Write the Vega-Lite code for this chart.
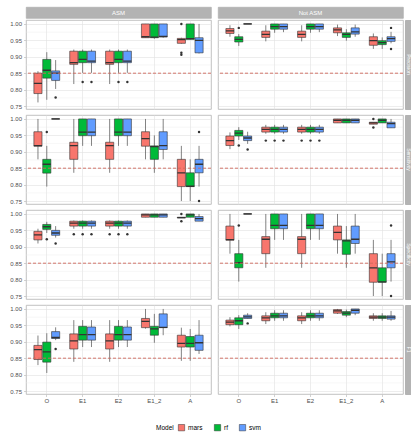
{
"$schema": "https://vega.github.io/schema/vega-lite/v6.json",
"padding": {"left": 8, "top": 6, "right": 0, "bottom": 0},
"datasets": {
"minor": [{"minor": 0.775}, {"minor": 0.825}, {"minor": 0.875}, {"minor": 0.925}, {"minor": 0.975}],
"stats": [
{"metric":"Precision","group":"ASM","method":"O","model":"mars","lower":0.761,"q1":0.788,"median":0.819,"q3":0.85,"upper":0.856},
{"metric":"Precision","group":"ASM","method":"O","model":"rf","lower":0.769,"q1":0.835,"median":0.859,"q3":0.892,"upper":0.914},
{"metric":"Precision","group":"ASM","method":"O","model":"svm","lower":0.802,"q1":0.828,"median":0.85,"q3":0.857,"upper":0.89},
{"metric":"Precision","group":"ASM","method":"E1","model":"mars","lower":0.817,"q1":0.877,"median":0.882,"q3":0.917,"upper":0.922},
{"metric":"Precision","group":"ASM","method":"E1","model":"rf","lower":0.851,"q1":0.882,"median":0.892,"q3":0.917,"upper":0.922},
{"metric":"Precision","group":"ASM","method":"E1","model":"svm","lower":0.851,"q1":0.882,"median":0.887,"q3":0.917,"upper":0.922},
{"metric":"Precision","group":"ASM","method":"E2","model":"mars","lower":0.817,"q1":0.877,"median":0.882,"q3":0.917,"upper":0.922},
{"metric":"Precision","group":"ASM","method":"E2","model":"rf","lower":0.851,"q1":0.882,"median":0.892,"q3":0.917,"upper":0.922},
{"metric":"Precision","group":"ASM","method":"E2","model":"svm","lower":0.851,"q1":0.882,"median":0.887,"q3":0.917,"upper":0.922},
{"metric":"Precision","group":"ASM","method":"E1_2","model":"mars","lower":0.958,"q1":0.958,"median":0.961,"q3":1,"upper":1},
{"metric":"Precision","group":"ASM","method":"E1_2","model":"rf","lower":0.955,"q1":0.958,"median":0.96,"q3":1,"upper":1},
{"metric":"Precision","group":"ASM","method":"E1_2","model":"svm","lower":0.958,"q1":0.96,"median":0.962,"q3":1,"upper":1},
{"metric":"Precision","group":"ASM","method":"A","model":"mars","lower":0.94,"q1":0.941,"median":0.952,"q3":0.956,"upper":0.958},
{"metric":"Precision","group":"ASM","method":"A","model":"rf","lower":0.953,"q1":0.953,"median":0.955,"q3":1,"upper":1},
{"metric":"Precision","group":"ASM","method":"A","model":"svm","lower":0.91,"q1":0.912,"median":0.95,"q3":0.958,"upper":1},
{"metric":"Precision","group":"ASM","method":"O","model":"svm","outlier":0.776},
{"metric":"Precision","group":"ASM","method":"E1","model":"rf","outlier":0.823},
{"metric":"Precision","group":"ASM","method":"E1","model":"svm","outlier":0.823},
{"metric":"Precision","group":"ASM","method":"E2","model":"rf","outlier":0.823},
{"metric":"Precision","group":"ASM","method":"E2","model":"svm","outlier":0.823},
{"metric":"Precision","group":"ASM","method":"A","model":"mars","outlier":1.0},
{"metric":"Precision","group":"ASM","method":"A","model":"mars","outlier":0.912},
{"metric":"Precision","group":"ASM","method":"A","model":"mars","outlier":0.906},

{"metric":"Precision","group":"Not ASM","method":"O","model":"mars","lower":0.961,"q1":0.971,"median":0.979,"q3":0.986,"upper":0.996},
{"metric":"Precision","group":"Not ASM","method":"O","model":"rf","lower":0.933,"q1":0.945,"median":0.953,"q3":0.961,"upper":0.969},
{"metric":"Precision","group":"Not ASM","method":"O","model":"svm","lower":1,"q1":1,"median":1,"q3":1,"upper":1},
{"metric":"Precision","group":"Not ASM","method":"E1","model":"mars","lower":0.947,"q1":0.959,"median":0.968,"q3":0.978,"upper":0.996},
{"metric":"Precision","group":"Not ASM","method":"E1","model":"rf","lower":0.973,"q1":0.984,"median":0.992,"q3":1,"upper":1},
{"metric":"Precision","group":"Not ASM","method":"E1","model":"svm","lower":0.975,"q1":0.984,"median":0.992,"q3":1,"upper":1},
{"metric":"Precision","group":"Not ASM","method":"E2","model":"mars","lower":0.947,"q1":0.959,"median":0.968,"q3":0.978,"upper":0.996},
{"metric":"Precision","group":"Not ASM","method":"E2","model":"rf","lower":0.973,"q1":0.984,"median":0.992,"q3":1,"upper":1},
{"metric":"Precision","group":"Not ASM","method":"E2","model":"svm","lower":0.975,"q1":0.984,"median":0.992,"q3":1,"upper":1},
{"metric":"Precision","group":"Not ASM","method":"E1_2","model":"mars","lower":0.963,"q1":0.973,"median":0.982,"q3":0.988,"upper":0.998},
{"metric":"Precision","group":"Not ASM","method":"E1_2","model":"rf","lower":0.949,"q1":0.959,"median":0.968,"q3":0.973,"upper":0.984},
{"metric":"Precision","group":"Not ASM","method":"E1_2","model":"svm","lower":0.961,"q1":0.969,"median":0.976,"q3":0.988,"upper":0.998},
{"metric":"Precision","group":"Not ASM","method":"A","model":"mars","lower":0.924,"q1":0.935,"median":0.949,"q3":0.961,"upper":0.971},
{"metric":"Precision","group":"Not ASM","method":"A","model":"rf","lower":0.924,"q1":0.937,"median":0.943,"q3":0.949,"upper":0.959},
{"metric":"Precision","group":"Not ASM","method":"A","model":"svm","lower":0.941,"q1":0.947,"median":0.955,"q3":0.961,"upper":0.976},
{"metric":"Precision","group":"Not ASM","method":"O","model":"rf","outlier":0.988},
{"metric":"Precision","group":"Not ASM","method":"A","model":"svm","outlier":0.988},
{"metric":"Precision","group":"Not ASM","method":"A","model":"svm","outlier":0.924},

{"metric":"Sensitivity","group":"ASM","method":"O","model":"mars","lower":0.877,"q1":0.917,"median":0.919,"q3":0.961,"upper":1},
{"metric":"Sensitivity","group":"ASM","method":"O","model":"rf","lower":0.794,"q1":0.835,"median":0.862,"q3":0.877,"upper":0.918},
{"metric":"Sensitivity","group":"ASM","method":"O","model":"svm","lower":1,"q1":1,"median":1,"q3":1,"upper":1},
{"metric":"Sensitivity","group":"ASM","method":"E1","model":"mars","lower":0.836,"q1":0.877,"median":0.919,"q3":0.929,"upper":1},
{"metric":"Sensitivity","group":"ASM","method":"E1","model":"rf","lower":0.918,"q1":0.949,"median":0.96,"q3":1,"upper":1},
{"metric":"Sensitivity","group":"ASM","method":"E1","model":"svm","lower":0.918,"q1":0.949,"median":0.96,"q3":1,"upper":1},
{"metric":"Sensitivity","group":"ASM","method":"E2","model":"mars","lower":0.836,"q1":0.877,"median":0.919,"q3":0.929,"upper":1},
{"metric":"Sensitivity","group":"ASM","method":"E2","model":"rf","lower":0.918,"q1":0.949,"median":0.96,"q3":1,"upper":1},
{"metric":"Sensitivity","group":"ASM","method":"E2","model":"svm","lower":0.918,"q1":0.949,"median":0.96,"q3":1,"upper":1},
{"metric":"Sensitivity","group":"ASM","method":"E1_2","model":"mars","lower":0.877,"q1":0.917,"median":0.94,"q3":0.961,"upper":1},
{"metric":"Sensitivity","group":"ASM","method":"E1_2","model":"rf","lower":0.836,"q1":0.877,"median":0.916,"q3":0.918,"upper":0.95},
{"metric":"Sensitivity","group":"ASM","method":"E1_2","model":"svm","lower":0.877,"q1":0.907,"median":0.919,"q3":0.961,"upper":1},
{"metric":"Sensitivity","group":"ASM","method":"A","model":"mars","lower":0.75,"q1":0.794,"median":0.836,"q3":0.877,"upper":0.918},
{"metric":"Sensitivity","group":"ASM","method":"A","model":"rf","lower":0.75,"q1":0.794,"median":0.795,"q3":0.836,"upper":0.877},
{"metric":"Sensitivity","group":"ASM","method":"A","model":"svm","lower":0.794,"q1":0.836,"median":0.862,"q3":0.877,"upper":0.918},
{"metric":"Sensitivity","group":"ASM","method":"O","model":"rf","outlier":0.96},
{"metric":"Sensitivity","group":"ASM","method":"A","model":"svm","outlier":0.96},
{"metric":"Sensitivity","group":"ASM","method":"A","model":"svm","outlier":0.75},

{"metric":"Sensitivity","group":"Not ASM","method":"O","model":"mars","lower":0.908,"q1":0.919,"median":0.934,"q3":0.948,"upper":0.959},
{"metric":"Sensitivity","group":"Not ASM","method":"O","model":"rf","lower":0.936,"q1":0.948,"median":0.957,"q3":0.965,"upper":0.975},
{"metric":"Sensitivity","group":"Not ASM","method":"O","model":"svm","lower":0.924,"q1":0.934,"median":0.942,"q3":0.948,"upper":0.961},
{"metric":"Sensitivity","group":"Not ASM","method":"E1","model":"mars","lower":0.955,"q1":0.96,"median":0.968,"q3":0.975,"upper":0.982},
{"metric":"Sensitivity","group":"Not ASM","method":"E1","model":"rf","lower":0.955,"q1":0.96,"median":0.968,"q3":0.975,"upper":0.982},
{"metric":"Sensitivity","group":"Not ASM","method":"E1","model":"svm","lower":0.955,"q1":0.96,"median":0.968,"q3":0.975,"upper":0.982},
{"metric":"Sensitivity","group":"Not ASM","method":"E2","model":"mars","lower":0.955,"q1":0.96,"median":0.968,"q3":0.975,"upper":0.982},
{"metric":"Sensitivity","group":"Not ASM","method":"E2","model":"rf","lower":0.955,"q1":0.96,"median":0.968,"q3":0.975,"upper":0.982},
{"metric":"Sensitivity","group":"Not ASM","method":"E2","model":"svm","lower":0.955,"q1":0.96,"median":0.968,"q3":0.975,"upper":0.982},
{"metric":"Sensitivity","group":"Not ASM","method":"E1_2","model":"mars","lower":0.988,"q1":0.988,"median":0.996,"q3":1,"upper":1},
{"metric":"Sensitivity","group":"Not ASM","method":"E1_2","model":"rf","lower":0.988,"q1":0.988,"median":0.996,"q3":1,"upper":1},
{"metric":"Sensitivity","group":"Not ASM","method":"E1_2","model":"svm","lower":0.988,"q1":0.988,"median":0.996,"q3":1,"upper":1},
{"metric":"Sensitivity","group":"Not ASM","method":"A","model":"mars","lower":0.984,"q1":0.984,"median":0.988,"q3":0.99,"upper":0.99},
{"metric":"Sensitivity","group":"Not ASM","method":"A","model":"rf","lower":0.988,"q1":0.988,"median":0.996,"q3":1,"upper":1},
{"metric":"Sensitivity","group":"Not ASM","method":"A","model":"svm","lower":0.973,"q1":0.973,"median":0.986,"q3":0.99,"upper":1},
{"metric":"Sensitivity","group":"Not ASM","method":"O","model":"rf","outlier":0.919},
{"metric":"Sensitivity","group":"Not ASM","method":"O","model":"svm","outlier":0.907},
{"metric":"Sensitivity","group":"Not ASM","method":"E1","model":"mars","outlier":0.934},
{"metric":"Sensitivity","group":"Not ASM","method":"E1","model":"rf","outlier":0.934},
{"metric":"Sensitivity","group":"Not ASM","method":"E1","model":"svm","outlier":0.934},
{"metric":"Sensitivity","group":"Not ASM","method":"E2","model":"mars","outlier":0.934},
{"metric":"Sensitivity","group":"Not ASM","method":"E2","model":"rf","outlier":0.934},
{"metric":"Sensitivity","group":"Not ASM","method":"E2","model":"svm","outlier":0.934},
{"metric":"Sensitivity","group":"Not ASM","method":"A","model":"mars","outlier":1.0},
{"metric":"Sensitivity","group":"Not ASM","method":"A","model":"mars","outlier":0.974},

{"metric":"Specificity","group":"ASM","method":"O","model":"mars","lower":0.91,"q1":0.921,"median":0.936,"q3":0.947,"upper":0.955},
{"metric":"Specificity","group":"ASM","method":"O","model":"rf","lower":0.942,"q1":0.953,"median":0.961,"q3":0.968,"upper":0.976},
{"metric":"Specificity","group":"ASM","method":"O","model":"svm","lower":0.928,"q1":0.935,"median":0.942,"q3":0.95,"upper":0.963},
{"metric":"Specificity","group":"ASM","method":"E1","model":"mars","lower":0.955,"q1":0.963,"median":0.972,"q3":0.978,"upper":0.98},
{"metric":"Specificity","group":"ASM","method":"E1","model":"rf","lower":0.955,"q1":0.963,"median":0.972,"q3":0.978,"upper":0.98},
{"metric":"Specificity","group":"ASM","method":"E1","model":"svm","lower":0.955,"q1":0.963,"median":0.972,"q3":0.978,"upper":0.98},
{"metric":"Specificity","group":"ASM","method":"E2","model":"mars","lower":0.955,"q1":0.963,"median":0.972,"q3":0.978,"upper":0.98},
{"metric":"Specificity","group":"ASM","method":"E2","model":"rf","lower":0.955,"q1":0.963,"median":0.972,"q3":0.978,"upper":0.98},
{"metric":"Specificity","group":"ASM","method":"E2","model":"svm","lower":0.955,"q1":0.963,"median":0.972,"q3":0.978,"upper":0.98},
{"metric":"Specificity","group":"ASM","method":"E1_2","model":"mars","lower":0.99,"q1":0.99,"median":0.997,"q3":1,"upper":1},
{"metric":"Specificity","group":"ASM","method":"E1_2","model":"rf","lower":0.99,"q1":0.99,"median":0.997,"q3":1,"upper":1},
{"metric":"Specificity","group":"ASM","method":"E1_2","model":"svm","lower":0.99,"q1":0.99,"median":0.997,"q3":1,"upper":1},
{"metric":"Specificity","group":"ASM","method":"A","model":"mars","lower":0.988,"q1":0.988,"median":0.989,"q3":0.99,"upper":0.99},
{"metric":"Specificity","group":"ASM","method":"A","model":"rf","lower":0.99,"q1":0.99,"median":0.997,"q3":1,"upper":1},
{"metric":"Specificity","group":"ASM","method":"A","model":"svm","lower":0.978,"q1":0.978,"median":0.986,"q3":0.992,"upper":1},
{"metric":"Specificity","group":"ASM","method":"O","model":"rf","outlier":0.923},
{"metric":"Specificity","group":"ASM","method":"O","model":"svm","outlier":0.91},
{"metric":"Specificity","group":"ASM","method":"E1","model":"mars","outlier":0.938},
{"metric":"Specificity","group":"ASM","method":"E1","model":"rf","outlier":0.938},
{"metric":"Specificity","group":"ASM","method":"E1","model":"svm","outlier":0.938},
{"metric":"Specificity","group":"ASM","method":"E2","model":"mars","outlier":0.938},
{"metric":"Specificity","group":"ASM","method":"E2","model":"rf","outlier":0.938},
{"metric":"Specificity","group":"ASM","method":"E2","model":"svm","outlier":0.938},
{"metric":"Specificity","group":"ASM","method":"A","model":"mars","outlier":1.0},
{"metric":"Specificity","group":"ASM","method":"A","model":"mars","outlier":0.978},

{"metric":"Specificity","group":"Not ASM","method":"O","model":"mars","lower":0.879,"q1":0.92,"median":0.922,"q3":0.963,"upper":1},
{"metric":"Specificity","group":"Not ASM","method":"O","model":"rf","lower":0.794,"q1":0.836,"median":0.852,"q3":0.879,"upper":0.921},
{"metric":"Specificity","group":"Not ASM","method":"O","model":"svm","lower":1,"q1":1,"median":1,"q3":1,"upper":1},
{"metric":"Specificity","group":"Not ASM","method":"E1","model":"mars","lower":0.836,"q1":0.879,"median":0.923,"q3":0.931,"upper":1},
{"metric":"Specificity","group":"Not ASM","method":"E1","model":"rf","lower":0.921,"q1":0.955,"median":0.965,"q3":1,"upper":1},
{"metric":"Specificity","group":"Not ASM","method":"E1","model":"svm","lower":0.921,"q1":0.955,"median":0.965,"q3":1,"upper":1},
{"metric":"Specificity","group":"Not ASM","method":"E2","model":"mars","lower":0.836,"q1":0.879,"median":0.923,"q3":0.931,"upper":1},
{"metric":"Specificity","group":"Not ASM","method":"E2","model":"rf","lower":0.921,"q1":0.955,"median":0.965,"q3":1,"upper":1},
{"metric":"Specificity","group":"Not ASM","method":"E2","model":"svm","lower":0.921,"q1":0.955,"median":0.965,"q3":1,"upper":1},
{"metric":"Specificity","group":"Not ASM","method":"E1_2","model":"mars","lower":0.879,"q1":0.921,"median":0.944,"q3":0.963,"upper":1},
{"metric":"Specificity","group":"Not ASM","method":"E1_2","model":"rf","lower":0.836,"q1":0.877,"median":0.918,"q3":0.921,"upper":0.963},
{"metric":"Specificity","group":"Not ASM","method":"E1_2","model":"svm","lower":0.879,"q1":0.91,"median":0.923,"q3":0.963,"upper":1},
{"metric":"Specificity","group":"Not ASM","method":"A","model":"mars","lower":0.75,"q1":0.792,"median":0.836,"q3":0.879,"upper":0.921},
{"metric":"Specificity","group":"Not ASM","method":"A","model":"rf","lower":0.75,"q1":0.792,"median":0.793,"q3":0.836,"upper":0.879},
{"metric":"Specificity","group":"Not ASM","method":"A","model":"svm","lower":0.794,"q1":0.836,"median":0.854,"q3":0.879,"upper":0.921},
{"metric":"Specificity","group":"Not ASM","method":"O","model":"rf","outlier":0.965},
{"metric":"Specificity","group":"Not ASM","method":"A","model":"svm","outlier":0.965},
{"metric":"Specificity","group":"Not ASM","method":"A","model":"svm","outlier":0.75},

{"metric":"F1","group":"ASM","method":"O","model":"mars","lower":0.829,"q1":0.846,"median":0.876,"q3":0.889,"upper":0.919},
{"metric":"F1","group":"ASM","method":"O","model":"rf","lower":0.805,"q1":0.838,"median":0.869,"q3":0.899,"upper":0.926},
{"metric":"F1","group":"ASM","method":"O","model":"svm","lower":0.905,"q1":0.91,"median":0.913,"q3":0.931,"upper":0.944},
{"metric":"F1","group":"ASM","method":"E1","model":"mars","lower":0.839,"q1":0.878,"median":0.903,"q3":0.924,"upper":0.966},
{"metric":"F1","group":"ASM","method":"E1","model":"rf","lower":0.884,"q1":0.905,"median":0.922,"q3":0.947,"upper":0.966},
{"metric":"F1","group":"ASM","method":"E1","model":"svm","lower":0.884,"q1":0.905,"median":0.922,"q3":0.945,"upper":0.966},
{"metric":"F1","group":"ASM","method":"E2","model":"mars","lower":0.839,"q1":0.878,"median":0.903,"q3":0.924,"upper":0.966},
{"metric":"F1","group":"ASM","method":"E2","model":"rf","lower":0.884,"q1":0.905,"median":0.922,"q3":0.947,"upper":0.966},
{"metric":"F1","group":"ASM","method":"E2","model":"svm","lower":0.884,"q1":0.905,"median":0.922,"q3":0.945,"upper":0.966},
{"metric":"F1","group":"ASM","method":"E1_2","model":"mars","lower":0.94,"q1":0.943,"median":0.962,"q3":0.971,"upper":1},
{"metric":"F1","group":"ASM","method":"E1_2","model":"rf","lower":0.897,"q1":0.92,"median":0.939,"q3":0.947,"upper":0.985},
{"metric":"F1","group":"ASM","method":"E1_2","model":"svm","lower":0.92,"q1":0.943,"median":0.944,"q3":0.985,"upper":1},
{"metric":"F1","group":"ASM","method":"A","model":"mars","lower":0.842,"q1":0.884,"median":0.895,"q3":0.92,"upper":0.943},
{"metric":"F1","group":"ASM","method":"A","model":"rf","lower":0.842,"q1":0.884,"median":0.895,"q3":0.916,"upper":0.939},
{"metric":"F1","group":"ASM","method":"A","model":"svm","lower":0.863,"q1":0.874,"median":0.897,"q3":0.92,"upper":0.966},
{"metric":"F1","group":"ASM","method":"O","model":"svm","outlier":0.878},

{"metric":"F1","group":"Not ASM","method":"O","model":"mars","lower":0.947,"q1":0.952,"median":0.96,"q3":0.966,"upper":0.975},
{"metric":"F1","group":"Not ASM","method":"O","model":"rf","lower":0.939,"q1":0.952,"median":0.964,"q3":0.973,"upper":0.981},
{"metric":"F1","group":"Not ASM","method":"O","model":"svm","lower":0.971,"q1":0.971,"median":0.976,"q3":0.981,"upper":0.987},
{"metric":"F1","group":"Not ASM","method":"E1","model":"mars","lower":0.954,"q1":0.964,"median":0.973,"q3":0.979,"upper":0.99},
{"metric":"F1","group":"Not ASM","method":"E1","model":"rf","lower":0.964,"q1":0.973,"median":0.979,"q3":0.987,"upper":0.996},
{"metric":"F1","group":"Not ASM","method":"E1","model":"svm","lower":0.964,"q1":0.973,"median":0.979,"q3":0.987,"upper":0.996},
{"metric":"F1","group":"Not ASM","method":"E2","model":"mars","lower":0.954,"q1":0.964,"median":0.973,"q3":0.979,"upper":0.99},
{"metric":"F1","group":"Not ASM","method":"E2","model":"rf","lower":0.964,"q1":0.973,"median":0.979,"q3":0.987,"upper":0.996},
{"metric":"F1","group":"Not ASM","method":"E2","model":"svm","lower":0.964,"q1":0.973,"median":0.979,"q3":0.987,"upper":0.996},
{"metric":"F1","group":"Not ASM","method":"E1_2","model":"mars","lower":0.985,"q1":0.987,"median":0.994,"q3":0.998,"upper":1},
{"metric":"F1","group":"Not ASM","method":"E1_2","model":"rf","lower":0.975,"q1":0.981,"median":0.987,"q3":0.992,"upper":0.998},
{"metric":"F1","group":"Not ASM","method":"E1_2","model":"svm","lower":0.981,"q1":0.987,"median":0.996,"q3":1,"upper":1},
{"metric":"F1","group":"Not ASM","method":"A","model":"mars","lower":0.964,"q1":0.971,"median":0.975,"q3":0.979,"upper":0.987},
{"metric":"F1","group":"Not ASM","method":"A","model":"rf","lower":0.964,"q1":0.971,"median":0.975,"q3":0.979,"upper":0.987},
{"metric":"F1","group":"Not ASM","method":"A","model":"svm","lower":0.964,"q1":0.969,"median":0.975,"q3":0.979,"upper":0.994},
{"metric":"F1","group":"Not ASM","method":"O","model":"svm","outlier":0.956}
]
},
"data": {"name": "stats"},
"resolve": {"scale": {"color": "shared"}, "legend": {"color": "shared"}},
"columns": 3,
"spacing": 0,
"align": "each",
"concat": [
  {"width": 185, "height": 11, "data": {"values": [{"label": "ASM"}]}, "view": {"fill": "#b3b3b3", "stroke": "#b3b3b3"}, "mark": {"type": "text", "color": "white", "fontSize": 6, "font": "Liberation Sans"}, "encoding": {"text": {"field": "label"}, "y": {"field": "label", "type": "nominal", "title": null, "axis": {"labels": false, "ticks": false, "domain": false, "grid": false, "minExtent": 17, "maxExtent": 17}}}},
  {"width": 185, "height": 11, "data": {"values": [{"label": "Not ASM"}]}, "view": {"fill": "#b3b3b3", "stroke": "#b3b3b3"}, "mark": {"type": "text", "color": "white", "fontSize": 6, "font": "Liberation Sans"}, "encoding": {"text": {"field": "label"}, "y": {"field": "label", "type": "nominal", "title": null, "axis": {"labels": false, "ticks": false, "domain": false, "grid": false, "minExtent": 5, "maxExtent": 5}}}},
  {"width": 7, "height": 11, "data": {"values": [{"label": ""}]}, "view": {"fill": null, "stroke": null}, "mark": {"type": "text"}, "encoding": {"text": {"field": "label"}}},

  {"width": 185, "height": 89, "transform": [{"filter": "datum.metric === 'Precision' && datum.group === 'ASM'"}],
   "layer": [
    {"data": {"name": "minor"}, "mark": {"type": "rule", "color": "#ececec", "strokeWidth": 0.4}, "encoding": {"y": {"field": "minor", "type": "quantitative", "title": null, "axis": {"labels": true, "ticks": true, "labelOverlap": false, "labelFlush": false, "labelBound": false, "tickCount": 6, "format": ".2f", "minExtent": 17, "maxExtent": 17}}}},
    {"mark": {"type": "rule", "color": "#4d4d4d", "strokeWidth": 0.7},
     "encoding": {"x": {"field": "method", "type": "nominal", "sort": ["O","E1","E2","E1_2","A"], "scale": {"paddingInner": 0.28, "paddingOuter": 0.22}, "title": null, "axis": {"minExtent": 4.5, "maxExtent": 4.5}},
      "xOffset": {"field": "model", "type": "nominal", "sort": ["mars","rf","svm"], "scale": {"paddingInner": 0.08}},
      "y": {"field": "lower", "type": "quantitative", "scale": {"domain": [0.741, 1.012], "nice": false, "zero": false}, "title": null,
        "axis": {"labels": true, "ticks": true, "labelOverlap": false, "labelFlush": false, "labelBound": false, "tickCount": 6, "format": ".2f", "minExtent": 17, "maxExtent": 17}},
      "y2": {"field": "upper"}}},
    {"mark": {"type": "bar", "stroke": "#333333", "strokeWidth": 0.6},
     "encoding": {"x": {"field": "method", "type": "nominal", "sort": ["O","E1","E2","E1_2","A"], "title": null}, "xOffset": {"field": "model", "type": "nominal", "sort": ["mars","rf","svm"]},
      "y": {"field": "q1", "type": "quantitative", "title": null}, "y2": {"field": "q3"},
      "color": {"field": "model", "type": "nominal", "title": "Model", "scale": {"domain": ["mars","rf","svm"], "range": ["#F8766D","#00BA38","#619CFF"]}}}},
    {"mark": {"type": "bar", "stroke": "#333333", "strokeWidth": 1.3, "fill": "transparent"},
     "encoding": {"x": {"field": "method", "type": "nominal", "sort": ["O","E1","E2","E1_2","A"], "title": null}, "xOffset": {"field": "model", "type": "nominal", "sort": ["mars","rf","svm"]},
      "y": {"field": "median", "type": "quantitative", "title": null}, "y2": {"field": "median"}}},
    {"mark": {"type": "circle", "color": "#333333", "size": 6, "opacity": 1},
     "encoding": {"x": {"field": "method", "type": "nominal", "sort": ["O","E1","E2","E1_2","A"], "title": null}, "xOffset": {"field": "model", "type": "nominal", "sort": ["mars","rf","svm"]},
      "y": {"field": "outlier", "type": "quantitative", "title": null}}},
    {"data": {"values": [{"threshold": 0.85}]}, "mark": {"type": "rule", "color": "#d0685c", "strokeDash": [3, 2], "strokeWidth": 0.9},
     "encoding": {"y": {"field": "threshold", "type": "quantitative", "title": null}}}
   ]},
  {"width": 185, "height": 89, "transform": [{"filter": "datum.metric === 'Precision' && datum.group === 'Not ASM'"}],
   "layer": [
    {"data": {"name": "minor"}, "mark": {"type": "rule", "color": "#ececec", "strokeWidth": 0.4}, "encoding": {"y": {"field": "minor", "type": "quantitative", "title": null, "axis": {"tickCount": 6, "minExtent": 5, "maxExtent": 5}}}},
    {"mark": {"type": "rule", "color": "#4d4d4d", "strokeWidth": 0.7},
     "encoding": {"x": {"field": "method", "type": "nominal", "sort": ["O","E1","E2","E1_2","A"], "scale": {"paddingInner": 0.28, "paddingOuter": 0.22}, "title": null, "axis": {"minExtent": 4.5, "maxExtent": 4.5}},
      "xOffset": {"field": "model", "type": "nominal", "sort": ["mars","rf","svm"], "scale": {"paddingInner": 0.08}},
      "y": {"field": "lower", "type": "quantitative", "scale": {"domain": [0.741, 1.012], "nice": false, "zero": false}, "title": null,
        "axis": {"tickCount": 6, "minExtent": 5, "maxExtent": 5}},
      "y2": {"field": "upper"}}},
    {"mark": {"type": "bar", "stroke": "#333333", "strokeWidth": 0.6},
     "encoding": {"x": {"field": "method", "type": "nominal", "sort": ["O","E1","E2","E1_2","A"], "title": null}, "xOffset": {"field": "model", "type": "nominal", "sort": ["mars","rf","svm"]},
      "y": {"field": "q1", "type": "quantitative", "title": null}, "y2": {"field": "q3"},
      "color": {"field": "model", "type": "nominal", "title": "Model", "scale": {"domain": ["mars","rf","svm"], "range": ["#F8766D","#00BA38","#619CFF"]}}}},
    {"mark": {"type": "bar", "stroke": "#333333", "strokeWidth": 1.3, "fill": "transparent"},
     "encoding": {"x": {"field": "method", "type": "nominal", "sort": ["O","E1","E2","E1_2","A"], "title": null}, "xOffset": {"field": "model", "type": "nominal", "sort": ["mars","rf","svm"]},
      "y": {"field": "median", "type": "quantitative", "title": null}, "y2": {"field": "median"}}},
    {"mark": {"type": "circle", "color": "#333333", "size": 6, "opacity": 1},
     "encoding": {"x": {"field": "method", "type": "nominal", "sort": ["O","E1","E2","E1_2","A"], "title": null}, "xOffset": {"field": "model", "type": "nominal", "sort": ["mars","rf","svm"]},
      "y": {"field": "outlier", "type": "quantitative", "title": null}}},
    {"data": {"values": [{"threshold": 0.85}]}, "mark": {"type": "rule", "color": "#d0685c", "strokeDash": [3, 2], "strokeWidth": 0.9},
     "encoding": {"y": {"field": "threshold", "type": "quantitative", "title": null}}}
   ]},
  {"width": 7, "height": 89, "data": {"values": [{"label": "Precision"}]}, "view": {"fill": "#b3b3b3", "stroke": "#b3b3b3"}, "mark": {"type": "text", "color": "white", "fontSize": 5, "font": "Liberation Sans", "angle": 90}, "encoding": {"text": {"field": "label"}}},

  {"width": 185, "height": 89, "transform": [{"filter": "datum.metric === 'Sensitivity' && datum.group === 'ASM'"}],
   "layer": [
    {"data": {"name": "minor"}, "mark": {"type": "rule", "color": "#ececec", "strokeWidth": 0.4}, "encoding": {"y": {"field": "minor", "type": "quantitative", "title": null, "axis": {"labels": true, "ticks": true, "labelOverlap": false, "labelFlush": false, "labelBound": false, "tickCount": 6, "format": ".2f", "minExtent": 17, "maxExtent": 17}}}},
    {"mark": {"type": "rule", "color": "#4d4d4d", "strokeWidth": 0.7},
     "encoding": {"x": {"field": "method", "type": "nominal", "sort": ["O","E1","E2","E1_2","A"], "scale": {"paddingInner": 0.28, "paddingOuter": 0.22}, "title": null, "axis": {"minExtent": 4.5, "maxExtent": 4.5}},
      "xOffset": {"field": "model", "type": "nominal", "sort": ["mars","rf","svm"], "scale": {"paddingInner": 0.08}},
      "y": {"field": "lower", "type": "quantitative", "scale": {"domain": [0.741, 1.012], "nice": false, "zero": false}, "title": null,
        "axis": {"labels": true, "ticks": true, "labelOverlap": false, "labelFlush": false, "labelBound": false, "tickCount": 6, "format": ".2f", "minExtent": 17, "maxExtent": 17}},
      "y2": {"field": "upper"}}},
    {"mark": {"type": "bar", "stroke": "#333333", "strokeWidth": 0.6},
     "encoding": {"x": {"field": "method", "type": "nominal", "sort": ["O","E1","E2","E1_2","A"], "title": null}, "xOffset": {"field": "model", "type": "nominal", "sort": ["mars","rf","svm"]},
      "y": {"field": "q1", "type": "quantitative", "title": null}, "y2": {"field": "q3"},
      "color": {"field": "model", "type": "nominal", "title": "Model", "scale": {"domain": ["mars","rf","svm"], "range": ["#F8766D","#00BA38","#619CFF"]}}}},
    {"mark": {"type": "bar", "stroke": "#333333", "strokeWidth": 1.3, "fill": "transparent"},
     "encoding": {"x": {"field": "method", "type": "nominal", "sort": ["O","E1","E2","E1_2","A"], "title": null}, "xOffset": {"field": "model", "type": "nominal", "sort": ["mars","rf","svm"]},
      "y": {"field": "median", "type": "quantitative", "title": null}, "y2": {"field": "median"}}},
    {"mark": {"type": "circle", "color": "#333333", "size": 6, "opacity": 1},
     "encoding": {"x": {"field": "method", "type": "nominal", "sort": ["O","E1","E2","E1_2","A"], "title": null}, "xOffset": {"field": "model", "type": "nominal", "sort": ["mars","rf","svm"]},
      "y": {"field": "outlier", "type": "quantitative", "title": null}}},
    {"data": {"values": [{"threshold": 0.85}]}, "mark": {"type": "rule", "color": "#d0685c", "strokeDash": [3, 2], "strokeWidth": 0.9},
     "encoding": {"y": {"field": "threshold", "type": "quantitative", "title": null}}}
   ]},
  {"width": 185, "height": 89, "transform": [{"filter": "datum.metric === 'Sensitivity' && datum.group === 'Not ASM'"}],
   "layer": [
    {"data": {"name": "minor"}, "mark": {"type": "rule", "color": "#ececec", "strokeWidth": 0.4}, "encoding": {"y": {"field": "minor", "type": "quantitative", "title": null, "axis": {"tickCount": 6, "minExtent": 5, "maxExtent": 5}}}},
    {"mark": {"type": "rule", "color": "#4d4d4d", "strokeWidth": 0.7},
     "encoding": {"x": {"field": "method", "type": "nominal", "sort": ["O","E1","E2","E1_2","A"], "scale": {"paddingInner": 0.28, "paddingOuter": 0.22}, "title": null, "axis": {"minExtent": 4.5, "maxExtent": 4.5}},
      "xOffset": {"field": "model", "type": "nominal", "sort": ["mars","rf","svm"], "scale": {"paddingInner": 0.08}},
      "y": {"field": "lower", "type": "quantitative", "scale": {"domain": [0.741, 1.012], "nice": false, "zero": false}, "title": null,
        "axis": {"tickCount": 6, "minExtent": 5, "maxExtent": 5}},
      "y2": {"field": "upper"}}},
    {"mark": {"type": "bar", "stroke": "#333333", "strokeWidth": 0.6},
     "encoding": {"x": {"field": "method", "type": "nominal", "sort": ["O","E1","E2","E1_2","A"], "title": null}, "xOffset": {"field": "model", "type": "nominal", "sort": ["mars","rf","svm"]},
      "y": {"field": "q1", "type": "quantitative", "title": null}, "y2": {"field": "q3"},
      "color": {"field": "model", "type": "nominal", "title": "Model", "scale": {"domain": ["mars","rf","svm"], "range": ["#F8766D","#00BA38","#619CFF"]}}}},
    {"mark": {"type": "bar", "stroke": "#333333", "strokeWidth": 1.3, "fill": "transparent"},
     "encoding": {"x": {"field": "method", "type": "nominal", "sort": ["O","E1","E2","E1_2","A"], "title": null}, "xOffset": {"field": "model", "type": "nominal", "sort": ["mars","rf","svm"]},
      "y": {"field": "median", "type": "quantitative", "title": null}, "y2": {"field": "median"}}},
    {"mark": {"type": "circle", "color": "#333333", "size": 6, "opacity": 1},
     "encoding": {"x": {"field": "method", "type": "nominal", "sort": ["O","E1","E2","E1_2","A"], "title": null}, "xOffset": {"field": "model", "type": "nominal", "sort": ["mars","rf","svm"]},
      "y": {"field": "outlier", "type": "quantitative", "title": null}}},
    {"data": {"values": [{"threshold": 0.85}]}, "mark": {"type": "rule", "color": "#d0685c", "strokeDash": [3, 2], "strokeWidth": 0.9},
     "encoding": {"y": {"field": "threshold", "type": "quantitative", "title": null}}}
   ]},
  {"width": 7, "height": 89, "data": {"values": [{"label": "Sensitivity"}]}, "view": {"fill": "#b3b3b3", "stroke": "#b3b3b3"}, "mark": {"type": "text", "color": "white", "fontSize": 5, "font": "Liberation Sans", "angle": 90}, "encoding": {"text": {"field": "label"}}},

  {"width": 185, "height": 89, "transform": [{"filter": "datum.metric === 'Specificity' && datum.group === 'ASM'"}],
   "layer": [
    {"data": {"name": "minor"}, "mark": {"type": "rule", "color": "#ececec", "strokeWidth": 0.4}, "encoding": {"y": {"field": "minor", "type": "quantitative", "title": null, "axis": {"labels": true, "ticks": true, "labelOverlap": false, "labelFlush": false, "labelBound": false, "tickCount": 6, "format": ".2f", "minExtent": 17, "maxExtent": 17}}}},
    {"mark": {"type": "rule", "color": "#4d4d4d", "strokeWidth": 0.7},
     "encoding": {"x": {"field": "method", "type": "nominal", "sort": ["O","E1","E2","E1_2","A"], "scale": {"paddingInner": 0.28, "paddingOuter": 0.22}, "title": null, "axis": {"minExtent": 4.5, "maxExtent": 4.5}},
      "xOffset": {"field": "model", "type": "nominal", "sort": ["mars","rf","svm"], "scale": {"paddingInner": 0.08}},
      "y": {"field": "lower", "type": "quantitative", "scale": {"domain": [0.741, 1.012], "nice": false, "zero": false}, "title": null,
        "axis": {"labels": true, "ticks": true, "labelOverlap": false, "labelFlush": false, "labelBound": false, "tickCount": 6, "format": ".2f", "minExtent": 17, "maxExtent": 17}},
      "y2": {"field": "upper"}}},
    {"mark": {"type": "bar", "stroke": "#333333", "strokeWidth": 0.6},
     "encoding": {"x": {"field": "method", "type": "nominal", "sort": ["O","E1","E2","E1_2","A"], "title": null}, "xOffset": {"field": "model", "type": "nominal", "sort": ["mars","rf","svm"]},
      "y": {"field": "q1", "type": "quantitative", "title": null}, "y2": {"field": "q3"},
      "color": {"field": "model", "type": "nominal", "title": "Model", "scale": {"domain": ["mars","rf","svm"], "range": ["#F8766D","#00BA38","#619CFF"]}}}},
    {"mark": {"type": "bar", "stroke": "#333333", "strokeWidth": 1.3, "fill": "transparent"},
     "encoding": {"x": {"field": "method", "type": "nominal", "sort": ["O","E1","E2","E1_2","A"], "title": null}, "xOffset": {"field": "model", "type": "nominal", "sort": ["mars","rf","svm"]},
      "y": {"field": "median", "type": "quantitative", "title": null}, "y2": {"field": "median"}}},
    {"mark": {"type": "circle", "color": "#333333", "size": 6, "opacity": 1},
     "encoding": {"x": {"field": "method", "type": "nominal", "sort": ["O","E1","E2","E1_2","A"], "title": null}, "xOffset": {"field": "model", "type": "nominal", "sort": ["mars","rf","svm"]},
      "y": {"field": "outlier", "type": "quantitative", "title": null}}},
    {"data": {"values": [{"threshold": 0.85}]}, "mark": {"type": "rule", "color": "#d0685c", "strokeDash": [3, 2], "strokeWidth": 0.9},
     "encoding": {"y": {"field": "threshold", "type": "quantitative", "title": null}}}
   ]},
  {"width": 185, "height": 89, "transform": [{"filter": "datum.metric === 'Specificity' && datum.group === 'Not ASM'"}],
   "layer": [
    {"data": {"name": "minor"}, "mark": {"type": "rule", "color": "#ececec", "strokeWidth": 0.4}, "encoding": {"y": {"field": "minor", "type": "quantitative", "title": null, "axis": {"tickCount": 6, "minExtent": 5, "maxExtent": 5}}}},
    {"mark": {"type": "rule", "color": "#4d4d4d", "strokeWidth": 0.7},
     "encoding": {"x": {"field": "method", "type": "nominal", "sort": ["O","E1","E2","E1_2","A"], "scale": {"paddingInner": 0.28, "paddingOuter": 0.22}, "title": null, "axis": {"minExtent": 4.5, "maxExtent": 4.5}},
      "xOffset": {"field": "model", "type": "nominal", "sort": ["mars","rf","svm"], "scale": {"paddingInner": 0.08}},
      "y": {"field": "lower", "type": "quantitative", "scale": {"domain": [0.741, 1.012], "nice": false, "zero": false}, "title": null,
        "axis": {"tickCount": 6, "minExtent": 5, "maxExtent": 5}},
      "y2": {"field": "upper"}}},
    {"mark": {"type": "bar", "stroke": "#333333", "strokeWidth": 0.6},
     "encoding": {"x": {"field": "method", "type": "nominal", "sort": ["O","E1","E2","E1_2","A"], "title": null}, "xOffset": {"field": "model", "type": "nominal", "sort": ["mars","rf","svm"]},
      "y": {"field": "q1", "type": "quantitative", "title": null}, "y2": {"field": "q3"},
      "color": {"field": "model", "type": "nominal", "title": "Model", "scale": {"domain": ["mars","rf","svm"], "range": ["#F8766D","#00BA38","#619CFF"]}}}},
    {"mark": {"type": "bar", "stroke": "#333333", "strokeWidth": 1.3, "fill": "transparent"},
     "encoding": {"x": {"field": "method", "type": "nominal", "sort": ["O","E1","E2","E1_2","A"], "title": null}, "xOffset": {"field": "model", "type": "nominal", "sort": ["mars","rf","svm"]},
      "y": {"field": "median", "type": "quantitative", "title": null}, "y2": {"field": "median"}}},
    {"mark": {"type": "circle", "color": "#333333", "size": 6, "opacity": 1},
     "encoding": {"x": {"field": "method", "type": "nominal", "sort": ["O","E1","E2","E1_2","A"], "title": null}, "xOffset": {"field": "model", "type": "nominal", "sort": ["mars","rf","svm"]},
      "y": {"field": "outlier", "type": "quantitative", "title": null}}},
    {"data": {"values": [{"threshold": 0.85}]}, "mark": {"type": "rule", "color": "#d0685c", "strokeDash": [3, 2], "strokeWidth": 0.9},
     "encoding": {"y": {"field": "threshold", "type": "quantitative", "title": null}}}
   ]},
  {"width": 7, "height": 89, "data": {"values": [{"label": "Specificity"}]}, "view": {"fill": "#b3b3b3", "stroke": "#b3b3b3"}, "mark": {"type": "text", "color": "white", "fontSize": 5, "font": "Liberation Sans", "angle": 90}, "encoding": {"text": {"field": "label"}}},

  {"width": 185, "height": 89, "transform": [{"filter": "datum.metric === 'F1' && datum.group === 'ASM'"}],
   "layer": [
    {"data": {"name": "minor"}, "mark": {"type": "rule", "color": "#ececec", "strokeWidth": 0.4}, "encoding": {"y": {"field": "minor", "type": "quantitative", "title": null, "axis": {"labels": true, "ticks": true, "labelOverlap": false, "labelFlush": false, "labelBound": false, "tickCount": 6, "format": ".2f", "minExtent": 17, "maxExtent": 17}}}},
    {"mark": {"type": "rule", "color": "#4d4d4d", "strokeWidth": 0.7},
     "encoding": {"x": {"field": "method", "type": "nominal", "sort": ["O","E1","E2","E1_2","A"], "scale": {"paddingInner": 0.28, "paddingOuter": 0.22}, "title": null, "axis": {"labels": true, "ticks": true}},
      "xOffset": {"field": "model", "type": "nominal", "sort": ["mars","rf","svm"], "scale": {"paddingInner": 0.08}},
      "y": {"field": "lower", "type": "quantitative", "scale": {"domain": [0.741, 1.012], "nice": false, "zero": false}, "title": null,
        "axis": {"labels": true, "ticks": true, "labelOverlap": false, "labelFlush": false, "labelBound": false, "tickCount": 6, "format": ".2f", "minExtent": 17, "maxExtent": 17}},
      "y2": {"field": "upper"}}},
    {"mark": {"type": "bar", "stroke": "#333333", "strokeWidth": 0.6},
     "encoding": {"x": {"field": "method", "type": "nominal", "sort": ["O","E1","E2","E1_2","A"], "title": null}, "xOffset": {"field": "model", "type": "nominal", "sort": ["mars","rf","svm"]},
      "y": {"field": "q1", "type": "quantitative", "title": null}, "y2": {"field": "q3"},
      "color": {"field": "model", "type": "nominal", "title": "Model", "scale": {"domain": ["mars","rf","svm"], "range": ["#F8766D","#00BA38","#619CFF"]}}}},
    {"mark": {"type": "bar", "stroke": "#333333", "strokeWidth": 1.3, "fill": "transparent"},
     "encoding": {"x": {"field": "method", "type": "nominal", "sort": ["O","E1","E2","E1_2","A"], "title": null}, "xOffset": {"field": "model", "type": "nominal", "sort": ["mars","rf","svm"]},
      "y": {"field": "median", "type": "quantitative", "title": null}, "y2": {"field": "median"}}},
    {"mark": {"type": "circle", "color": "#333333", "size": 6, "opacity": 1},
     "encoding": {"x": {"field": "method", "type": "nominal", "sort": ["O","E1","E2","E1_2","A"], "title": null}, "xOffset": {"field": "model", "type": "nominal", "sort": ["mars","rf","svm"]},
      "y": {"field": "outlier", "type": "quantitative", "title": null}}},
    {"data": {"values": [{"threshold": 0.85}]}, "mark": {"type": "rule", "color": "#d0685c", "strokeDash": [3, 2], "strokeWidth": 0.9},
     "encoding": {"y": {"field": "threshold", "type": "quantitative", "title": null}}}
   ]},
  {"width": 185, "height": 89, "transform": [{"filter": "datum.metric === 'F1' && datum.group === 'Not ASM'"}],
   "layer": [
    {"data": {"name": "minor"}, "mark": {"type": "rule", "color": "#ececec", "strokeWidth": 0.4}, "encoding": {"y": {"field": "minor", "type": "quantitative", "title": null, "axis": {"tickCount": 6, "minExtent": 5, "maxExtent": 5}}}},
    {"mark": {"type": "rule", "color": "#4d4d4d", "strokeWidth": 0.7},
     "encoding": {"x": {"field": "method", "type": "nominal", "sort": ["O","E1","E2","E1_2","A"], "scale": {"paddingInner": 0.28, "paddingOuter": 0.22}, "title": null, "axis": {"labels": true, "ticks": true}},
      "xOffset": {"field": "model", "type": "nominal", "sort": ["mars","rf","svm"], "scale": {"paddingInner": 0.08}},
      "y": {"field": "lower", "type": "quantitative", "scale": {"domain": [0.741, 1.012], "nice": false, "zero": false}, "title": null,
        "axis": {"tickCount": 6, "minExtent": 5, "maxExtent": 5}},
      "y2": {"field": "upper"}}},
    {"mark": {"type": "bar", "stroke": "#333333", "strokeWidth": 0.6},
     "encoding": {"x": {"field": "method", "type": "nominal", "sort": ["O","E1","E2","E1_2","A"], "title": null}, "xOffset": {"field": "model", "type": "nominal", "sort": ["mars","rf","svm"]},
      "y": {"field": "q1", "type": "quantitative", "title": null}, "y2": {"field": "q3"},
      "color": {"field": "model", "type": "nominal", "title": "Model", "scale": {"domain": ["mars","rf","svm"], "range": ["#F8766D","#00BA38","#619CFF"]}}}},
    {"mark": {"type": "bar", "stroke": "#333333", "strokeWidth": 1.3, "fill": "transparent"},
     "encoding": {"x": {"field": "method", "type": "nominal", "sort": ["O","E1","E2","E1_2","A"], "title": null}, "xOffset": {"field": "model", "type": "nominal", "sort": ["mars","rf","svm"]},
      "y": {"field": "median", "type": "quantitative", "title": null}, "y2": {"field": "median"}}},
    {"mark": {"type": "circle", "color": "#333333", "size": 6, "opacity": 1},
     "encoding": {"x": {"field": "method", "type": "nominal", "sort": ["O","E1","E2","E1_2","A"], "title": null}, "xOffset": {"field": "model", "type": "nominal", "sort": ["mars","rf","svm"]},
      "y": {"field": "outlier", "type": "quantitative", "title": null}}},
    {"data": {"values": [{"threshold": 0.85}]}, "mark": {"type": "rule", "color": "#d0685c", "strokeDash": [3, 2], "strokeWidth": 0.9},
     "encoding": {"y": {"field": "threshold", "type": "quantitative", "title": null}}}
   ]},
  {"width": 7, "height": 89, "data": {"values": [{"label": "F1"}]}, "view": {"fill": "#b3b3b3", "stroke": "#b3b3b3"}, "mark": {"type": "text", "color": "white", "fontSize": 5, "font": "Liberation Sans", "angle": 90}, "encoding": {"text": {"field": "label"}}}
],
"config": {
 "font": "Liberation Sans",
 "view": {"stroke": "#b3b3b3", "strokeWidth": 0.8, "fill": "white"},
 "axisX": {"labels": false, "ticks": false, "domain": false, "grid": true, "gridColor": "#e0e0e0", "gridWidth": 0.6, "bandPosition": 0.5, "labelFontSize": 6, "labelColor": "#4d4d4d", "labelAngle": 0, "labelPadding": 1, "tickColor": "#b3b3b3", "tickSize": 2.5, "tickWidth": 0.6},
 "axisY": {"labels": false, "ticks": false, "domain": false, "grid": true, "gridColor": "#e0e0e0", "gridWidth": 0.6, "labelFontSize": 6, "labelColor": "#4d4d4d", "labelPadding": 2, "labelOverlap": false, "tickColor": "#b3b3b3", "tickSize": 2.5, "tickWidth": 0.6},
 "legend": {"orient": "none", "legendX": 130, "legendY": 417, "direction": "horizontal", "titleOrient": "left", "titleFontSize": 6.5, "titleFontWeight": "normal", "titleColor": "black", "titlePadding": 4, "labelFontSize": 6.5, "labelColor": "black", "symbolType": "square", "symbolSize": 40, "symbolStrokeColor": "#333333", "symbolStrokeWidth": 0.5, "symbolOpacity": 1, "columnPadding": 10, "labelOffset": 3}
}
}
